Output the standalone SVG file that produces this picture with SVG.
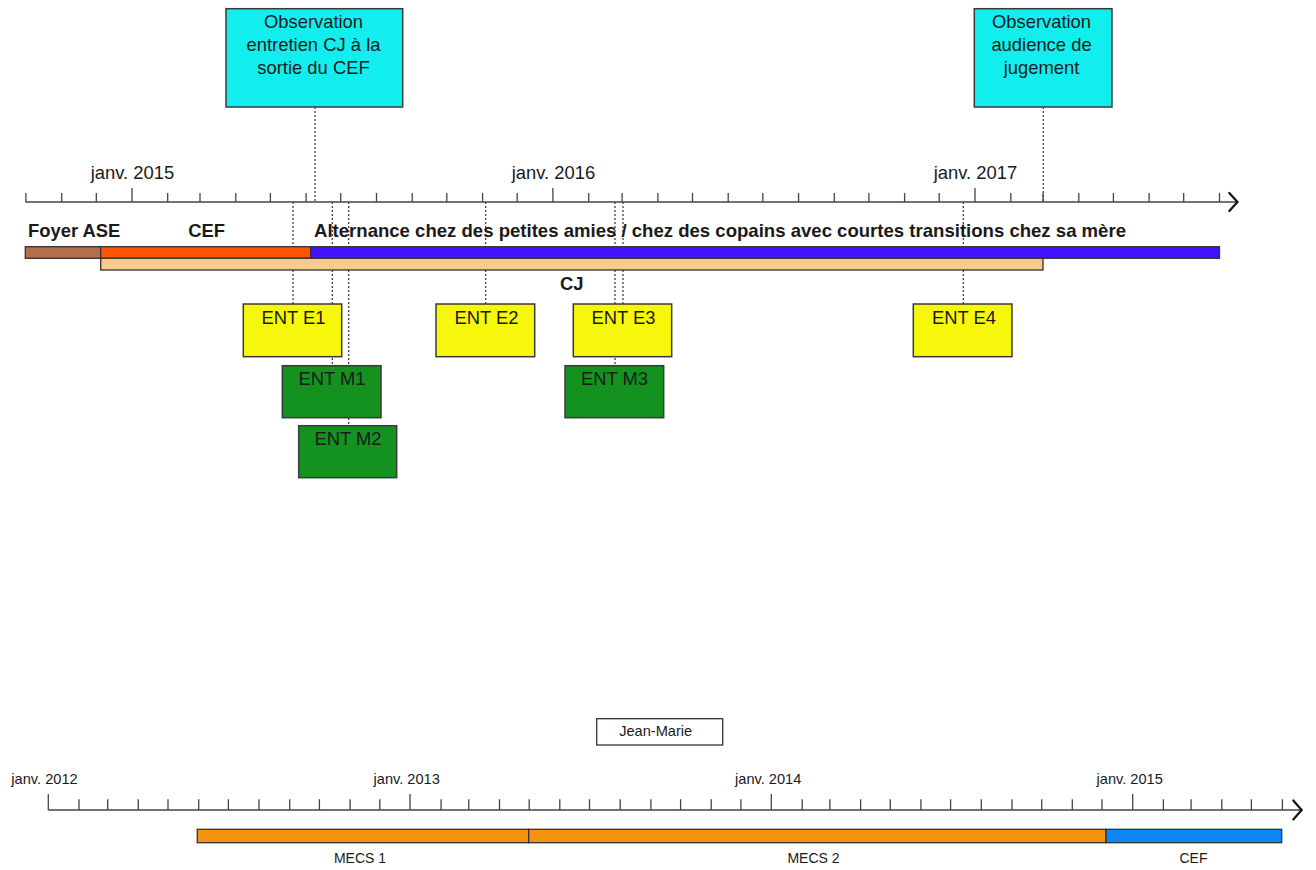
<svg xmlns="http://www.w3.org/2000/svg" width="1316" height="870" viewBox="0 0 1316 870">
<style>
text{font-family:"Liberation Sans",Arial,Helvetica,sans-serif;fill:#1a1a1a}
.ax{font-size:18.4px;text-anchor:middle}
.axb{font-size:14.6px;text-anchor:middle}
.lbl{font-size:18.4px;font-weight:bold}
.box{font-size:18.4px;text-anchor:middle}
.bl{font-size:14px;text-anchor:middle}
.axis{stroke:#444;stroke-width:1.3;fill:none}
.arrow{stroke:#111;stroke-width:2.2;fill:none;stroke-linecap:round;stroke-linejoin:miter}
.bar{stroke:#333;stroke-width:1.3}
.dot{stroke:#333;stroke-width:1.2;stroke-dasharray:2,2;fill:none}
.obs{fill:#12EEEE;stroke:#3a3a3a;stroke-width:1.5}
.ent-e{fill:#F7F70C;stroke:#3a3a3a;stroke-width:1.5}
.ent-m{fill:#13921F;stroke:#3a3a3a;stroke-width:1.5}
</style>

<g id="connectors">
<line class="dot" x1="315" y1="107" x2="315" y2="202"/>
<line class="dot" x1="1043.3" y1="107" x2="1043.3" y2="202"/>
<line class="dot" x1="293" y1="202" x2="293" y2="304"/>
<line class="dot" x1="332.3" y1="202" x2="332.3" y2="365.7"/>
<line class="dot" x1="348.7" y1="202" x2="348.7" y2="425.7"/>
<line class="dot" x1="485.7" y1="202" x2="485.7" y2="304"/>
<line class="dot" x1="615" y1="202" x2="615" y2="365.7"/>
<line class="dot" x1="623" y1="202" x2="623" y2="304"/>
<line class="dot" x1="963.3" y1="202" x2="963.3" y2="304"/>
</g>

<g id="axis-top">
<line class="axis" x1="25.5" y1="202" x2="1237" y2="202"/>
<path class="axis" d="M25.9 193V202M61.7 193V202M96.3 193V202M132 188V202M167.7 193V202M200 193V202M235.8 193V202M270.4 193V202M306.1 193V202M340.7 193V202M376.5 193V202M412.2 193V202M446.8 193V202M482.6 193V202M517.2 193V202M552.9 188V202M588.7 193V202M622.1 193V202M657.9 193V202M692.5 193V202M728.2 193V202M762.8 193V202M798.6 193V202M834.3 193V202M868.9 193V202M904.6 193V202M939.2 193V202M975 188V202M1010.8 193V202M1043 193V202M1078.8 193V202M1113.4 193V202M1149.1 193V202M1183.7 193V202M1219.5 193V202"/>
<path class="arrow" d="M1229.3 193L1237.5 202L1229.3 211"/>
<text class="ax" x="132.5" y="179.3">janv. 2015</text>
<text class="ax" x="553.5" y="179.3">janv. 2016</text>
<text class="ax" x="975.5" y="179.3">janv. 2017</text>
</g>

<g id="bar-foyer-ase">
<rect class="bar" x="25.3" y="246.7" width="75.4" height="11.6" fill="#B36E4E"/>
<text class="lbl" x="28" y="237.3">Foyer ASE</text>
</g>
<g id="bar-cef">
<rect class="bar" x="100.7" y="246.7" width="210" height="11.6" fill="#FF5500"/>
<text class="lbl" x="188.3" y="237.3">CEF</text>
</g>
<g id="bar-alternance">
<rect class="bar" x="310.7" y="246.7" width="908.8" height="11.6" fill="#4411FF"/>
<text class="lbl" x="314" y="237.3" textLength="812" lengthAdjust="spacingAndGlyphs">Alternance chez des petites amies / chez des copains avec courtes transitions chez sa mère</text>
</g>
<g id="bar-cj">
<rect class="bar" x="100.7" y="258.3" width="942.3" height="11.7" fill="#F8CB8C"/>
<text class="lbl" x="571.8" y="290.3" text-anchor="middle">CJ</text>
</g>

<g id="obs-entretien">
<rect class="obs" x="226" y="8.7" width="176.7" height="98.3"/>
<text class="box" x="313.5" y="27.7">Observation</text>
<text class="box" x="313.5" y="50.7">entretien CJ à la</text>
<text class="box" x="313.5" y="73.7">sortie du CEF</text>
</g>
<g id="obs-audience">
<rect class="obs" x="974.3" y="8.7" width="137.7" height="98.3"/>
<text class="box" x="1041.5" y="27.7">Observation</text>
<text class="box" x="1041.5" y="50.7">audience de</text>
<text class="box" x="1041.5" y="73.7">jugement</text>
</g>

<g id="ent-e1">
<rect class="ent-e" x="243.3" y="304" width="98.4" height="52.7"/>
<text class="box" x="293.5" y="323.5">ENT E1</text>
</g>
<g id="ent-e2">
<rect class="ent-e" x="436" y="304" width="98.7" height="52.7"/>
<text class="box" x="486.5" y="323.5">ENT E2</text>
</g>
<g id="ent-e3">
<rect class="ent-e" x="573.3" y="304" width="98.4" height="52.7"/>
<text class="box" x="623.5" y="323.5">ENT E3</text>
</g>
<g id="ent-e4">
<rect class="ent-e" x="913.3" y="304" width="98.7" height="52.7"/>
<text class="box" x="964" y="323.5">ENT E4</text>
</g>
<g id="ent-m1">
<rect class="ent-m" x="282.3" y="365.7" width="98.7" height="52"/>
<text class="box" x="332" y="385.3">ENT M1</text>
</g>
<g id="ent-m2">
<rect class="ent-m" x="298.7" y="425.7" width="98" height="52"/>
<text class="box" x="348" y="445.3">ENT M2</text>
</g>
<g id="ent-m3">
<rect class="ent-m" x="565" y="365.7" width="98.7" height="52"/>
<text class="box" x="614.5" y="385.3">ENT M3</text>
</g>

<g id="title-jean-marie">
<rect x="596.7" y="718.7" width="126" height="26.3" fill="#fff" stroke="#333" stroke-width="1.3"/>
<text class="axb" x="655.7" y="736.3">Jean-Marie</text>
</g>

<g id="axis-bottom">
<line class="axis" x1="48.3" y1="810" x2="1301.5" y2="810"/>
<path class="axis" d="M48.3 794V810M79 799.3V810M107.7 799.3V810M138.3 799.3V810M168 799.3V810M198.7 799.3V810M228.4 799.3V810M259 799.3V810M289.7 799.3V810M319.4 799.3V810M350.1 799.3V810M379.8 799.3V810M410 794V810M441.1 799.3V810M468.8 799.3V810M499.5 799.3V810M529.2 799.3V810M559.8 799.3V810M589.5 799.3V810M620.2 799.3V810M650.9 799.3V810M680.6 799.3V810M711.2 799.3V810M740.9 799.3V810M771.3 794V810M802.2 799.3V810M829.9 799.3V810M860.6 799.3V810M890.3 799.3V810M920.9 799.3V810M950.6 799.3V810M981.3 799.3V810M1012 799.3V810M1041.7 799.3V810M1072.3 799.3V810M1102 799.3V810M1132.7 794V810M1163.4 799.3V810M1191.1 799.3V810M1221.8 799.3V810M1251.4 799.3V810M1282.4 799.3V810"/>
<path class="arrow" d="M1293.3 800.5L1301.7 810L1293.3 819.5"/>
<text class="axb" x="44.5" y="784">janv. 2012</text>
<text class="axb" x="406.7" y="784">janv. 2013</text>
<text class="axb" x="768.2" y="784">janv. 2014</text>
<text class="axb" x="1129.7" y="784">janv. 2015</text>
</g>

<g id="bar-mecs1">
<rect class="bar" x="197.3" y="829.3" width="331.4" height="13.4" fill="#F6930F"/>
<text class="bl" x="360" y="862.7">MECS 1</text>
</g>
<g id="bar-mecs2">
<rect class="bar" x="528.7" y="829.3" width="577.3" height="13.4" fill="#F6930F"/>
<text class="bl" x="813.5" y="862.7">MECS 2</text>
</g>
<g id="bar-cef-bottom">
<rect class="bar" x="1106" y="829.3" width="175.7" height="13.4" fill="#0B88F5"/>
<text class="bl" x="1193.5" y="862.7">CEF</text>
</g>
</svg>
